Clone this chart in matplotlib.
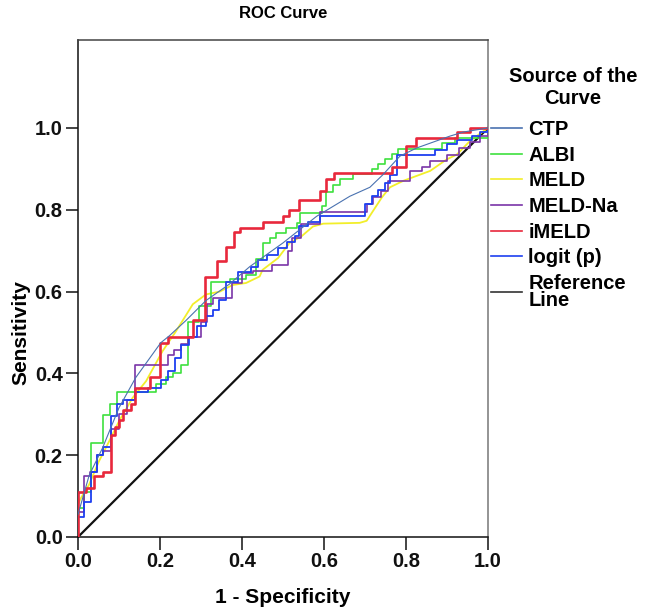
import matplotlib
matplotlib.use("Agg")
import matplotlib.pyplot as plt
from matplotlib.lines import Line2D

plt.rcParams['font.family'] = ['Liberation Sans', 'DejaVu Sans']
plt.rcParams['font.weight'] = 'bold'

# ---------------- data ----------------
ctp_fpr = [0, 0.027, 0.06, 0.10, 0.141, 0.202, 0.223, 0.263, 0.312, 0.369, 0.419, 0.5,
           0.582, 0.663, 0.712, 0.744, 0.785, 0.826, 0.907, 0.94, 1.0]
ctp_tpr = [0.055, 0.15, 0.218, 0.316, 0.39, 0.475, 0.492, 0.529, 0.578, 0.618, 0.661, 0.719,
           0.784, 0.833, 0.855, 0.886, 0.931, 0.951, 0.98, 0.99, 1.0]

albi_fpr = [0, 0, 0.015, 0.032, 0.061, 0.079, 0.096, 0.19, 0.215, 0.232, 0.252, 0.268, 0.296,
            0.325, 0.37, 0.41, 0.435, 0.451, 0.468, 0.484, 0.508, 0.533, 0.541, 0.594, 0.606,
            0.622, 0.639, 0.671, 0.716, 0.732, 0.749, 0.765, 0.781, 0.887, 0.92, 1.0]
albi_tpr = [0, 0.07, 0.11, 0.23, 0.298, 0.326, 0.355, 0.375, 0.39, 0.40, 0.42, 0.525, 0.565,
            0.623, 0.63, 0.64, 0.68, 0.718, 0.731, 0.743, 0.755, 0.768, 0.792, 0.81, 0.843,
            0.86, 0.876, 0.888, 0.90, 0.913, 0.925, 0.937, 0.949, 0.962, 0.975, 1.0]

meld_fpr = [0, 0.007, 0.027, 0.051, 0.076, 0.10, 0.133, 0.166, 0.206, 0.239, 0.28, 0.312,
            0.346, 0.377, 0.41, 0.443, 0.45, 0.488, 0.516, 0.545, 0.573, 0.598, 0.687, 0.704,
            0.741, 0.761, 0.794, 0.859, 0.899, 0.924, 0.957, 1.0]
meld_tpr = [0.08, 0.095, 0.128, 0.185, 0.234, 0.283, 0.34, 0.381, 0.454, 0.503, 0.569, 0.593,
            0.60, 0.616, 0.621, 0.637, 0.653, 0.682, 0.719, 0.735, 0.759, 0.766, 0.768, 0.773,
            0.83, 0.855, 0.871, 0.895, 0.923, 0.935, 0.969, 1.0]

meldna_fpr = [0, 0, 0.015, 0.03, 0.047, 0.06, 0.08, 0.10, 0.12, 0.138, 0.22, 0.235, 0.25, 0.268,
              0.30, 0.315, 0.33, 0.375, 0.40, 0.427, 0.472, 0.512, 0.521, 0.545, 0.59, 0.705,
              0.72, 0.74, 0.755, 0.81, 0.84, 0.858, 0.90, 0.93, 0.955, 0.98, 1.0]
meldna_tpr = [0, 0.06, 0.15, 0.16, 0.20, 0.21, 0.265, 0.30, 0.335, 0.42, 0.445, 0.457, 0.473,
              0.49, 0.525, 0.57, 0.585, 0.62, 0.645, 0.65, 0.665, 0.70, 0.73, 0.765, 0.795,
              0.815, 0.83, 0.845, 0.87, 0.895, 0.905, 0.92, 0.935, 0.95, 0.965, 0.98, 1.0]

imeld_fpr = [0, 0, 0.02, 0.04, 0.06, 0.08, 0.09, 0.10, 0.11, 0.13, 0.14, 0.175, 0.20, 0.22,
             0.28, 0.31, 0.34, 0.36, 0.38, 0.395, 0.45, 0.50, 0.515, 0.54, 0.59, 0.605, 0.625,
             0.765, 0.80, 0.825, 0.925, 0.955, 1.0]
imeld_tpr = [0, 0.11, 0.12, 0.15, 0.16, 0.25, 0.27, 0.285, 0.31, 0.325, 0.365, 0.39, 0.475,
             0.49, 0.53, 0.635, 0.675, 0.71, 0.745, 0.755, 0.77, 0.785, 0.80, 0.825, 0.845,
             0.875, 0.89, 0.905, 0.955, 0.975, 0.99, 1.0, 1.0]

logit_fpr = [0, 0, 0.015, 0.031, 0.047, 0.06, 0.08, 0.096, 0.11, 0.14, 0.17, 0.203, 0.219, 0.236,
             0.252, 0.27, 0.29, 0.313, 0.33, 0.345, 0.362, 0.39, 0.423, 0.439, 0.46, 0.488,
             0.51, 0.529, 0.54, 0.56, 0.59, 0.70, 0.716, 0.732, 0.748, 0.761, 0.777, 0.87,
             0.90, 0.925, 0.96, 0.98, 1.0]
logit_tpr = [0, 0.05, 0.085, 0.16, 0.20, 0.22, 0.295, 0.325, 0.335, 0.355, 0.365, 0.385, 0.405,
             0.437, 0.47, 0.49, 0.515, 0.54, 0.555, 0.58, 0.624, 0.649, 0.661, 0.678, 0.69,
             0.706, 0.72, 0.735, 0.76, 0.77, 0.785, 0.815, 0.833, 0.849, 0.866, 0.886, 0.935,
             0.945, 0.96, 0.97, 0.98, 0.99, 1.0]

ref_x = [0, 1]
ref_y = [0, 1]

ticks = [0.0, 0.2, 0.4, 0.6, 0.8, 1.0]
tick_labels = ['0.0', '0.2', '0.4', '0.6', '0.8', '1.0']
series_labels = ['CTP', 'ALBI', 'MELD', 'MELD-Na', 'iMELD', 'logit (p)', 'Reference\nLine']
legend_title = 'Source of the\nCurve'

# ---------------- figure ----------------
fig = plt.figure(figsize=(6.5, 6.1), dpi=100)
ax = fig.add_axes([78 / 650, 1 - 537 / 610, 410 / 650, 497 / 610])

c_ctp = '#4a72b0'
c_albi = '#3ee03e'
c_meld = '#f2ee2a'
c_meldna = '#7a35a8'
c_imeld = '#e8283c'
c_logit = '#1e3ff0'
c_ref = '#111111'

ax.plot(ref_x, ref_y, color=c_ref, lw=1.6, zorder=2)
ax.plot(meld_fpr, meld_tpr, color=c_meld, lw=1.3, zorder=3)
ax.step(albi_fpr, albi_tpr, where='post', color=c_albi, lw=1.2, zorder=4)
ax.step(meldna_fpr, meldna_tpr, where='post', color=c_meldna, lw=1.2, zorder=5)
ax.step(logit_fpr, logit_tpr, where='post', color=c_logit, lw=1.3, zorder=6)
ax.step(imeld_fpr, imeld_tpr, where='post', color=c_imeld, lw=1.9, zorder=7)
ax.plot(ctp_fpr, ctp_tpr, color=c_ctp, lw=0.8, zorder=8)

ax.set_xlim(0, 1)
ax.set_ylim(0, 1.215)
ax.set_xticks(ticks)
ax.set_xticklabels(tick_labels)
ax.set_yticks(ticks)
ax.set_yticklabels(tick_labels)
ax.tick_params(axis='both', direction='out', length=9, width=1.1, labelsize=14.5, pad=2,
               colors='#111111')
for lab in ax.get_xticklabels() + ax.get_yticklabels():
    lab.set_fontweight('bold')

ax.spines['left'].set_color('#111111')
ax.spines['bottom'].set_color('#111111')
ax.spines['top'].set_color('#444444')
ax.spines['right'].set_color('#777777')
for s in ax.spines.values():
    s.set_linewidth(1.1)

ax.set_xlabel('1 - Specificity', fontsize=15, fontweight='bold', labelpad=12)
ax.set_ylabel('Sensitivity', fontsize=15, fontweight='bold')
ax.yaxis.set_label_coords(-0.117, 0.5 / 1.215)
ax.set_title('ROC Curve', fontsize=12, fontweight='bold', pad=16)

# ---------------- legend ----------------
fig.text(573 / 650, 1 - 87.5 / 610, legend_title, ha='center', va='center',
         fontsize=14.5, fontweight='bold', linespacing=1.15, multialignment='center')

colors = [c_ctp, c_albi, c_meld, c_meldna, c_imeld, c_logit, '#333333']
handles = [Line2D([], [], color=c, lw=1.2) for c in colors]
leg = fig.legend(handles, series_labels, loc='upper left',
                 bbox_to_anchor=(491 / 650, 1 - 120 / 610),
                 frameon=False, handlelength=1.55,
                 handletextpad=0.3, labelspacing=0.33, borderpad=0, borderaxespad=0,
                 prop={'size': 14.5, 'weight': 'bold'})
leg.get_texts()[-1].set_linespacing(0.85)

fig.savefig('out.png', dpi=100)
